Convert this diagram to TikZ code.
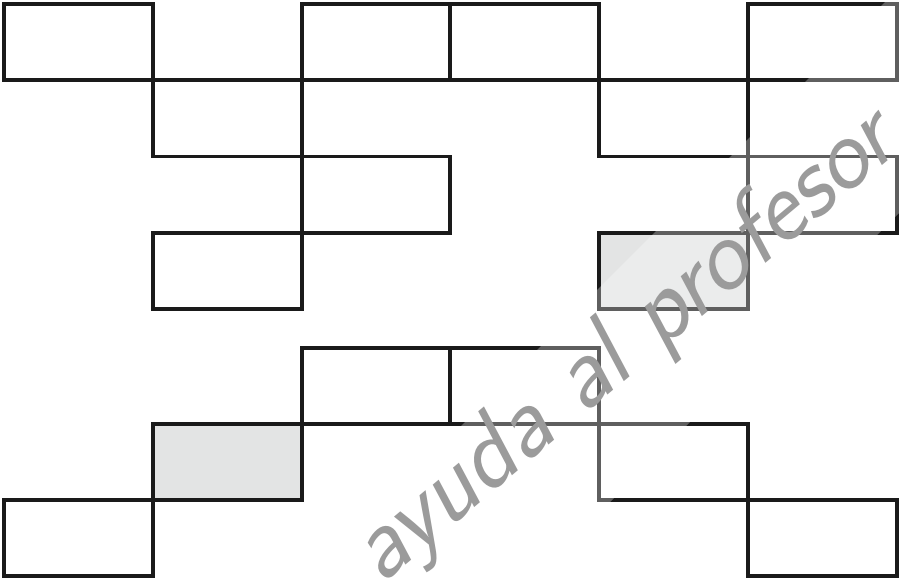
\documentclass[tikz,border=0pt]{standalone}
\usepackage{tikz}
\usepackage{xcolor}
\usetikzlibrary{positioning, calc}
\definecolor{stroke}{RGB}{26, 26, 26}
\definecolor{shade}{RGB}{227, 228, 228}
\definecolor{mark}{RGB}{155, 155, 155}

\begin{document}
\begin{tikzpicture}[x=0.02cm, y=-0.02cm,
    tile/.style={rectangle, draw=stroke, line width=2.2pt,
                 minimum width=2.976cm, minimum height=1.525cm,
                 inner sep=0pt, outer sep=0pt}]

\useasboundingbox (0,0) rectangle (900,580);
\clip (0,0) rectangle (900,580);

% Upper block of bricks
\foreach \c/\r/\f in {0/0/white, 2/0/white, 3/0/white, 5/0/white,
                      1/1/white, 4/1/white, 2/2/white, 5/2/white,
                      1/3/white, 4/3/shade} {
    \node[tile, fill=\f] (t\c\r) at ({78.4+148.8*\c}, {42.1+76.25*\r}) {};
}

% Lower block of bricks
\foreach \c/\r/\f in {2/0/white, 3/0/white, 1/1/shade, 4/1/white,
                      0/2/white, 5/2/white} {
    \node[tile, fill=\f] (b\c\r) at ({78.4+148.8*\c}, {386+76*\r}) {};
}

% Watermark
\fill[white, opacity=0.3] (163,724) -- (963,-76) -- (1188,-76) -- (388,724) -- cycle;
\node[text=mark, rotate=40, font=\fontsize{58}{58}\selectfont\sffamily\slshape]
      (wm) at (625,348) {ayuda al profesor};

\end{tikzpicture}
\end{document}
